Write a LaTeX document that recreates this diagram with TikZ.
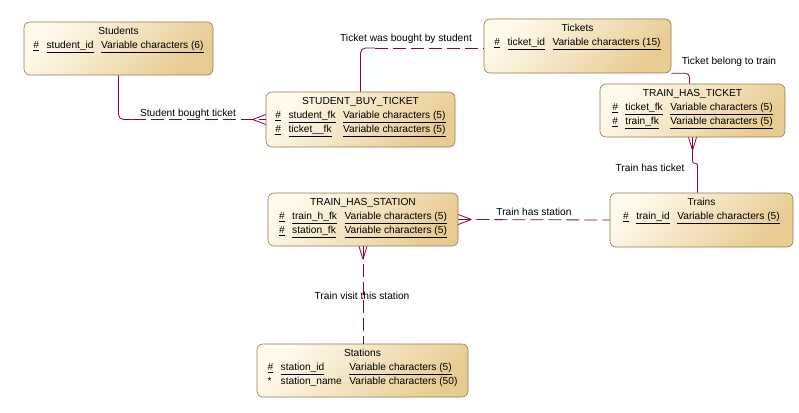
\documentclass[tikz,border=0pt]{standalone}
\usepackage{fontspec}
\setmainfont{Liberation Sans}
\usetikzlibrary{positioning, calc}
\definecolor{entlight}{RGB}{255,250,236}
\definecolor{entdark}{RGB}{232,203,145}
\definecolor{entline}{RGB}{150,122,78}
\definecolor{relline}{RGB}{140,0,70}
\newcommand{\attrcols}{@{}l@{\hspace{7.5pt}}l@{\hspace{7.5pt}}l@{}}

\begin{document}
\begin{tikzpicture}[x=1pt,y=-1pt,
			font=\fontsize{10.2}{14}\selectfont,
			entity/.style={draw=entline, line width=0.6pt, rounded corners=6pt, top color=entlight, bottom color=entdark, shading angle=45, inner sep=0pt},
			attrs/.style={inner sep=0pt, anchor=north},
			rel/.style={draw=relline, line width=0.8pt},
			reldash/.style={rel, dash pattern=on 13pt off 5pt},
			rellabel/.style={inner sep=1pt, text=black}]
			\useasboundingbox (0,0) rectangle (799,412);
			% entities
			\node [entity, minimum width=189pt, minimum height=53pt] (students) at (118.5,48.5) {};
			\node [attrs, below=3pt of students.north] (students-a) {\begin{tabular}{\attrcols}
				\multicolumn{3}{c}{Students}\\
				\underline{\#} & \underline{student\_id} & \underline{Variable characters (6)}
			\end{tabular}};
			\node [entity, minimum width=189pt, minimum height=55pt] (sbt) at (360.5,119.5) {};
			\node [attrs, below=3pt of sbt.north] (sbt-a) {\begin{tabular}{\attrcols}
				\multicolumn{3}{c}{STUDENT\_BUY\_TICKET}\\
				\underline{\#} & \underline{student\_fk} & \underline{Variable characters (5)}\\
				\underline{\#} & \underline{ticket\_\_fk} & \underline{Variable characters (5)}
			\end{tabular}};
			\node [entity, minimum width=187pt, minimum height=54pt] (tickets) at (577.5,46) {};
			\node [attrs, below=3pt of tickets.north] (tickets-a) {\begin{tabular}{\attrcols}
				\multicolumn{3}{c}{Tickets}\\
				\underline{\#} & \underline{ticket\_id} & \underline{Variable characters (15)}
			\end{tabular}};
			\node [entity, minimum width=185pt, minimum height=53pt] (tht) at (692.5,110.5) {};
			\node [attrs, below=3pt of tht.north] (tht-a) {\begin{tabular}{\attrcols}
				\multicolumn{3}{c}{TRAIN\_HAS\_TICKET}\\
				\underline{\#} & \underline{ticket\_fk} & \underline{Variable characters (5)}\\
				\underline{\#} & \underline{train\_fk} & \underline{Variable characters (5)}
			\end{tabular}};
			\node [entity, minimum width=183pt, minimum height=54pt] (trains) at (701.5,220) {};
			\node [attrs, below=3pt of trains.north] (trains-a) {\begin{tabular}{\attrcols}
				\multicolumn{3}{c}{Trains}\\
				\underline{\#} & \underline{train\_id} & \underline{Variable characters (5)}
			\end{tabular}};
			\node [entity, minimum width=190pt, minimum height=53pt] (ths) at (363,219.5) {};
			\node [attrs, below=3pt of ths.north] (ths-a) {\begin{tabular}{\attrcols}
				\multicolumn{3}{c}{TRAIN\_HAS\_STATION}\\
				\underline{\#} & \underline{train\_h\_fk} & \underline{Variable characters (5)}\\
				\underline{\#} & \underline{station\_fk} & \underline{Variable characters (5)}
			\end{tabular}};
			\node [entity, minimum width=211pt, minimum height=53pt] (stations) at (362.5,370.5) {};
			\node [attrs, below=3pt of stations.north] (stations-a) {\begin{tabular}{\attrcols}
				\multicolumn{3}{c}{Stations}\\
				\underline{\#} & \underline{station\_id} & \underline{Variable characters (5)}\\
				{*} & station\_name & Variable characters (50)
			\end{tabular}};
			% relationships
			\coordinate (sb-bend) at (students.south |- sbt.west);
			\draw [rel, rounded corners=5pt] (students.south) -- (sb-bend) -- ($(sb-bend)+(14,0)$);
			\draw [reldash] ($(sb-bend)+(14,0)$) -- (sbt.west);
			\draw [rel] ($(sbt.west)+(-13,0)$) -- ($(sbt.west)+(0,-5)$)
				($(sbt.west)+(-13,0)$) -- ($(sbt.west)+(0,5)$);
			\node [rellabel] (l-sb) at (188,114) {Student bought ticket};
			\coordinate (tb-bend) at ($(sbt.north |- tickets.west)+(0,2)$);
			\draw [rel, rounded corners=5pt] (sbt.north) -- (tb-bend) -- ($(tb-bend)+(14,0)$);
			\draw [reldash] ($(tb-bend)+(14,0)$) -- ($(tickets.west)+(0,2)$);
			\node [rellabel] (l-tb) at (406,39) {Ticket was bought by student};
			\draw [rel, rounded corners=4pt] (tickets.south east) -| ($(tht.north)+(-3,0)$);
			\node [rellabel] (l-bt) at (729,62) {Ticket belong to train};
			\draw [rel, rounded corners=2pt] (tht.south) -- ++(0,26) -| ($(trains.north)+(-4,0)$);
			\draw [rel] ($(tht.south)+(0,13)$) -- ($(tht.south)+(-4,0)$)
				($(tht.south)+(0,13)$) -- ($(tht.south)+(4,0)$);
			\node [rellabel] (l-ht) at (650,168) {Train has ticket};
			\draw [reldash] (ths.east) -- (trains.west);
			\draw [rel] ($(ths.east)+(13,0)$) -- ($(ths.east)+(0,-5)$)
				($(ths.east)+(13,0)$) -- ($(ths.east)+(0,5)$);
			\node [rellabel] (l-hs) at (534,212) {Train has station};
			\draw [reldash] (ths.south) -- (ths.south |- stations.north);
			\draw [rel] ($(ths.south)+(0,13)$) -- ($(ths.south)+(-4,0)$)
				($(ths.south)+(0,13)$) -- ($(ths.south)+(4,0)$);
			\node [rellabel] (l-vs) at (362,296) {Train visit this station};
		\end{tikzpicture}
\end{document}
